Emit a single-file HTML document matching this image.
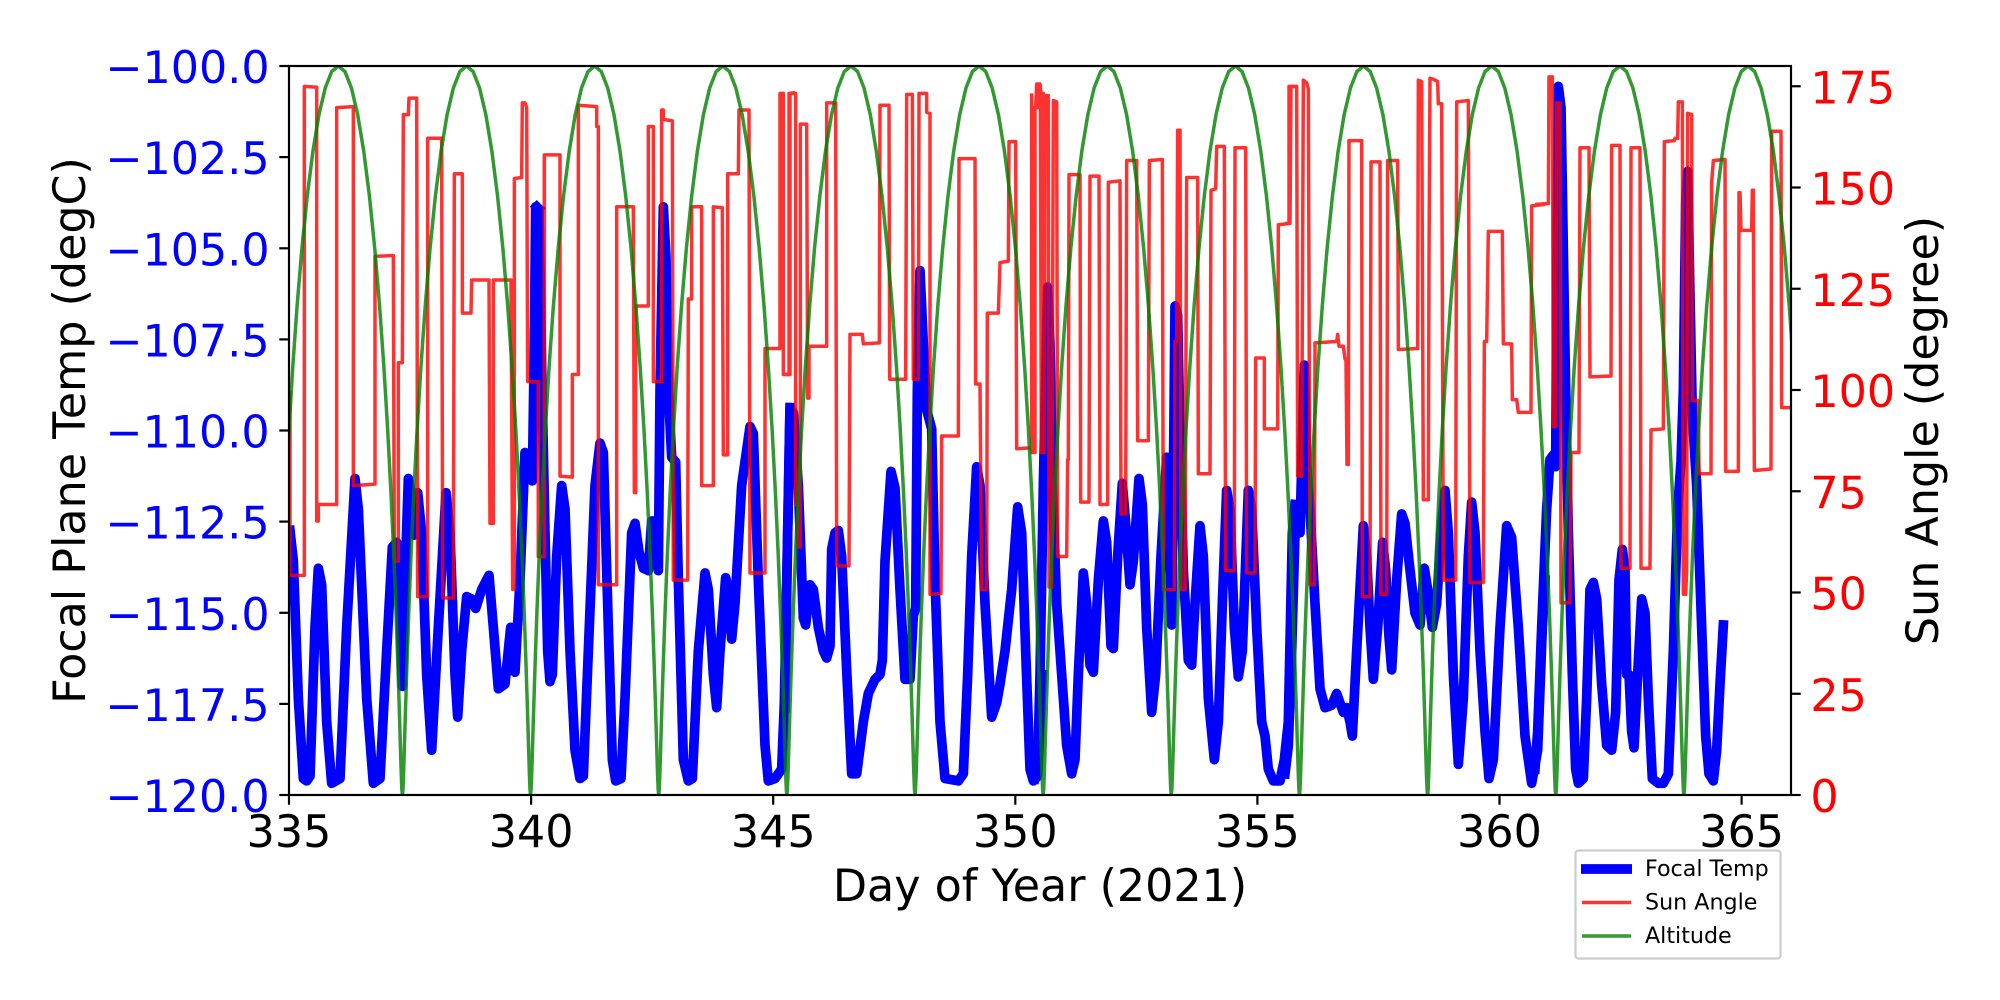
<!DOCTYPE html>
<html><head><meta charset="utf-8"><style>
html,body{margin:0;padding:0;background:#fff;}
svg{display:block;}
text{font-family:"DejaVu Sans","Liberation Sans",sans-serif;}
</style></head><body>
<svg width="2000" height="1000" viewBox="0 0 2000 1000" xmlns="http://www.w3.org/2000/svg">
<rect width="2000" height="1000" fill="#fff"/>
<defs>
<clipPath id="c"><rect x="289" y="66" width="1502" height="729"/></clipPath>
<path id="arch" d="M0,0 L0.55,-5.5 1.19,-22 2.01,-48.8 3.09,-85.3 4.52,-130.2 6.34,-182.3 8.62,-239.8 11.39,-301.2 14.68,-364.5 18.5,-427.8 22.84,-489.2 27.68,-546.8 32.97,-598.8 38.65,-643.7 44.68,-680.2 50.98,-707 57.44,-723.5 64.08,-729 70.71,-723.5 77.17,-707 83.47,-680.2 89.5,-643.7 95.18,-598.8 100.47,-546.8 105.31,-489.2 109.65,-427.8 113.47,-364.5 116.76,-301.2 119.53,-239.8 121.81,-182.3 123.63,-130.2 125.06,-85.3 126.14,-48.8 126.96,-22 127.6,-5.5 128.15,0"/>
</defs>

<g clip-path="url(#c)">
<!-- Blue focal temp -->
<g fill="none" stroke="#0000ff" stroke-width="9.7" stroke-linejoin="round" stroke-linecap="square">
<polyline vector-effect="non-scaling-stroke" transform="translate(285,60.33) scale(0.33333,0.4725)" points="15,995 25,1060 40,1350 55,1520 65,1525 75,1515 90,1200 100,1075 110,1110 125,1400 140,1530 165,1520 185,1200 210,885 220,950 245,1350 265,1530 285,1520 305,1250 322,1030 335,1020 342,1080 352,1325 360,1100 370,885 380,920 387,1005 398,915 410,1000 425,1300 440,1460 460,1200 483,915 495,1000 510,1300 518,1390 530,1250 545,1135 560,1140 572,1160 590,1120 612,1090 625,1200 640,1330 660,1320 677,1200 690,1295 705,1100 720,830 735,840 742,890 748,600 752,310 762,315"/>
<polyline vector-effect="non-scaling-stroke" transform="translate(535,60.33) scale(0.33333,0.4725)" points="5,310 12,315 20,650 30,1000 38,1250 45,1315 52,1300 65,1050 80,900 90,950 105,1250 120,1460 135,1520 145,1515 160,1250 180,900 195,810 205,830 220,1200 232,1480 242,1525 258,1520 270,1350 290,1000 300,980 312,1040 325,1075 340,1080 350,975 360,975 370,1080 375,700 385,310 393,420 400,700 410,840 422,850 430,1100 445,1480 460,1525 472,1520 490,1250 510,1085 520,1120 535,1300 545,1370 555,1250 572,1095 580,1120 590,1225 600,1150 620,900 645,775 655,790 670,1100 690,1450 700,1525 720,1520 740,1500 748,1360 758,1000 765,735"/>
<polyline vector-effect="non-scaling-stroke" transform="translate(785,60.33) scale(0.33333,0.4725)" points="0,1370 8,1000 15,735 25,745 40,900 55,1180 62,1195 75,1110 85,1120 100,1200 115,1250 125,1265 135,1240 140,1035 150,1000 160,995 170,1050 185,1290 200,1510 215,1510 235,1400 250,1340 270,1310 285,1300 292,1270 300,1060 318,870 330,905 345,1120 360,1310 375,1310 385,1175 392,1160 397,700 405,445 415,600 425,740 440,780 450,1100 465,1400 480,1520 520,1525 535,1510 548,1300 560,1050 575,860 585,900 600,1150 620,1390 635,1360 645,1320 660,1250 680,1120 698,945 710,1000 722,1250 735,1500 745,1525 758,1515 772,1300"/>
<polyline vector-effect="non-scaling-stroke" transform="translate(1035,60.33) scale(0.33333,0.4725)" points="0,1520 8,1500 15,1300 25,900 38,480 45,600 52,900 65,1150 80,1300 95,1450 110,1510 120,1480 130,1300 145,1085 155,1150 165,1280 175,1295 190,1100 205,975 215,1020 228,1240 235,1245 248,1050 262,895 272,980 285,1110 295,1060 312,885 322,940 335,1200 350,1380 362,1300 378,1050 395,840 402,1000 410,1195 415,900 420,520 428,540 435,800 445,1080 460,1270 470,1280 480,1150 495,985 505,1050 520,1350 538,1480 550,1400 562,1150 575,910 585,950 598,1200 610,1305 622,1250 640,910 650,950 665,1200 680,1400 690,1430 700,1500 715,1525 735,1525 748,1480 760,1400 772,1000 780,940"/>
<polyline vector-effect="non-scaling-stroke" transform="translate(1285,60.33) scale(0.33333,0.4725)" points="0,1510 10,1450 20,1250 30,1000 38,960 45,1000 52,800 58,645 65,850 75,950 90,1150 105,1330 120,1370 140,1365 155,1340 165,1360 175,1380 185,1370 195,1400 202,1430 215,1250 235,985 245,1050 255,1200 265,1310 278,1200 293,1020 302,1080 312,1220 320,1290 335,1100 350,960 360,980 372,1060 390,1170 405,1195 418,1075 428,1120 442,1200 455,1150 468,1000 480,910 490,1000 505,1300 520,1490 535,1350 550,1050 560,935 570,1000 585,1250 600,1420 612,1520 625,1480 645,1200 665,985 680,1010 700,1200 720,1430 740,1530 758,1460 772,1200 780,1100"/>
<polyline vector-effect="non-scaling-stroke" transform="translate(1535,60.33) scale(0.33333,0.4725)" points="0,1500 8,1420 20,1200 35,950 45,845 55,835 62,860 66,400 70,55 78,100 85,400 92,700 100,1000 112,1300 122,1500 130,1530 145,1520 155,1350 165,1120 175,1105 185,1140 200,1320 215,1450 230,1460 242,1380 252,1100 262,1035 270,1080 275,1300 282,1300 290,1420 297,1455 308,1300 320,1140 330,1170 340,1350 352,1520 370,1530 385,1530 400,1510 415,1250 428,950 438,850 445,700 452,300 458,235 465,500 472,750 485,900 500,1200 512,1430 522,1510 535,1525 545,1460 555,1320 565,1195"/>
</g>

<!-- Red sun angle -->
<g fill="none" stroke="#ff0000" stroke-width="3.5" stroke-linejoin="round" opacity="0.8">
<polyline vector-effect="non-scaling-stroke" transform="translate(285,60.33) scale(0.33333,0.4725)" points="15,700 15,1090 58,1090 58,55 95,57 95,975 100,975 100,940 155,940 155,100 205,98 205,900 270,897 270,415 325,413 328,1060 340,1060 340,640 352,640 355,115 370,115 372,80 395,80 398,1135 428,1135 428,165 470,165 473,1138 505,1138 508,240 532,240 532,535 558,535 560,465 612,465 615,980 625,980 625,465 678,465 683,1120 688,1120 688,250 710,248 712,90 720,90 725,100 728,680 760,680 760,1050 778,1050 778,205"/>
<polyline vector-effect="non-scaling-stroke" transform="translate(535,60.33) scale(0.33333,0.4725)" points="0,680 10,680 10,1050 28,1050 28,200 75,200 75,880 112,882 112,665 130,665 130,95 185,98 185,140 190,140 190,1110 245,1110 245,310 295,310 298,915 302,915 302,520 340,520 340,140 355,140 355,680 380,680 380,105 385,105 385,125 412,128 415,1100 458,1100 460,505 470,505 470,310 500,310 500,900 535,900 535,310 562,312 565,835 578,835 578,240 610,240 612,105 642,105 645,1085 690,1085 690,610 735,610 735,70 745,70 745,665 765,665 765,70 780,68"/>
<polyline vector-effect="non-scaling-stroke" transform="translate(785,60.33) scale(0.33333,0.4725)" points="0,665 12,665 12,70 32,70 32,940 40,940 40,1030 46,1030 46,135 65,135 68,715 72,715 72,605 125,605 125,90 152,90 155,1070 192,1070 195,580 232,580 235,600 283,598 285,95 312,95 314,675 362,675 365,72 382,72 385,675 400,675 402,70 425,70 425,110 435,112 435,1130 468,1128 470,795 520,795 522,208 570,208 572,685 585,685 590,1120 605,1120 607,535 640,535 645,428 670,425 672,172 692,172 695,822 740,820 742,100 752,100 755,50 765,50 768,70 775,70 775,830"/>
<polyline vector-effect="non-scaling-stroke" transform="translate(1035,60.33) scale(0.33333,0.4725)" points="-10,70 -10,830 0,830 0,100 8,100 10,55 16,55 19,830 28,830 30,75 40,75 42,1115 50,1115 55,85 65,88 68,1050 95,1050 98,845 100,845 102,242 135,242 137,935 162,935 165,245 192,245 195,940 218,940 220,258 255,255 258,960 272,960 275,212 305,212 308,805 340,805 343,212 382,210 385,1120 418,1120 420,595 425,595 428,148 435,148 438,1120 450,1120 455,248 488,248 490,875 525,875 528,275 542,272 545,182 568,182 572,1080 598,1080 600,185 632,185 635,1085 660,1085 662,630 688,630 688,780 728,780 730,348 765,345 768,55 780,55"/>
<polyline vector-effect="non-scaling-stroke" transform="translate(1285,60.33) scale(0.33333,0.4725)" points="0,345 12,345 12,55 35,55 38,880 50,880 55,42 65,48 70,60 75,1110 88,1110 90,598 155,595 158,580 162,605 175,605 180,632 183,632 186,855 190,855 192,170 230,170 232,1135 255,1135 258,215 285,215 288,1130 305,1130 308,212 338,212 340,612 398,610 400,42 410,45 415,930 430,930 432,425 435,38 445,40 458,45 460,92 470,92 475,1100 512,1100 515,88 550,85 555,1105 595,1105 598,595 605,595 610,362 652,362 655,600 680,600 682,718 695,718 700,745 738,745 740,308 780,305"/>
<polyline vector-effect="non-scaling-stroke" transform="translate(1535,60.33) scale(0.33333,0.4725)" points="0,305 40,303 42,35 52,35 55,775 62,775 65,90 75,90 78,1148 105,1148 108,830 132,830 135,185 162,185 165,670 228,668 230,180 255,180 258,1075 285,1075 288,185 315,185 318,1075 345,1075 348,782 385,780 388,172 418,170 420,165 428,165 430,88 442,88 445,1130 452,1130 455,1080 458,112 470,115 472,720 490,720 492,875 528,875 530,258 535,212 570,210 572,870 610,870 612,280 615,280 618,360 650,360 652,275 655,275 658,868 708,865 710,150 738,150 740,735 770,735"/>
</g>

<!-- Green altitude -->
<g fill="none" stroke="#008000" stroke-width="3.5" stroke-linejoin="round" opacity="0.8">
<g transform="translate(0,795)">
<use href="#arch" x="274.25"/>
<use href="#arch" x="402.4"/>
<use href="#arch" x="530.55"/>
<use href="#arch" x="658.7"/>
<use href="#arch" x="786.85"/>
<use href="#arch" x="915"/>
<use href="#arch" x="1043.15"/>
<use href="#arch" x="1171.3"/>
<use href="#arch" x="1299.45"/>
<use href="#arch" x="1427.6"/>
<use href="#arch" x="1555.75"/>
<use href="#arch" x="1683.9"/>
</g>
</g>
</g>

<!-- Axes frame -->
<rect x="289" y="66" width="1502" height="729" fill="none" stroke="#000" stroke-width="2.2"/>

<!-- Ticks -->
<g stroke="#000" stroke-width="2.2">
<line x1="279.3" y1="66" x2="289" y2="66"/>
<line x1="279.3" y1="157.1" x2="289" y2="157.1"/>
<line x1="279.3" y1="248.3" x2="289" y2="248.3"/>
<line x1="279.3" y1="339.4" x2="289" y2="339.4"/>
<line x1="279.3" y1="430.5" x2="289" y2="430.5"/>
<line x1="279.3" y1="521.6" x2="289" y2="521.6"/>
<line x1="279.3" y1="612.8" x2="289" y2="612.8"/>
<line x1="279.3" y1="703.9" x2="289" y2="703.9"/>
<line x1="279.3" y1="795" x2="289" y2="795"/>

<line x1="1791" y1="795" x2="1800.7" y2="795"/>
<line x1="1791" y1="693.75" x2="1800.7" y2="693.75"/>
<line x1="1791" y1="592.5" x2="1800.7" y2="592.5"/>
<line x1="1791" y1="491.25" x2="1800.7" y2="491.25"/>
<line x1="1791" y1="390" x2="1800.7" y2="390"/>
<line x1="1791" y1="288.75" x2="1800.7" y2="288.75"/>
<line x1="1791" y1="187.5" x2="1800.7" y2="187.5"/>
<line x1="1791" y1="86.25" x2="1800.7" y2="86.25"/>

<line x1="289" y1="795" x2="289" y2="804.7"/>
<line x1="531.1" y1="795" x2="531.1" y2="804.7"/>
<line x1="773.2" y1="795" x2="773.2" y2="804.7"/>
<line x1="1015.3" y1="795" x2="1015.3" y2="804.7"/>
<line x1="1257.4" y1="795" x2="1257.4" y2="804.7"/>
<line x1="1499.5" y1="795" x2="1499.5" y2="804.7"/>
<line x1="1741.6" y1="795" x2="1741.6" y2="804.7"/>
</g>

<!-- Left tick labels -->
<g fill="#0000ff" font-size="44.4" text-anchor="end">
<text x="269.6" y="83">−100.0</text>
<text x="269.6" y="174.1">−102.5</text>
<text x="269.6" y="265.3">−105.0</text>
<text x="269.6" y="356.4">−107.5</text>
<text x="269.6" y="447.5">−110.0</text>
<text x="269.6" y="538.6">−112.5</text>
<text x="269.6" y="629.8">−115.0</text>
<text x="269.6" y="720.9">−117.5</text>
<text x="269.6" y="812">−120.0</text>
</g>

<!-- Right tick labels -->
<g fill="#ff0000" font-size="44.4" text-anchor="start">
<text x="1810.4" y="812">0</text>
<text x="1810.4" y="710.75">25</text>
<text x="1810.4" y="609.5">50</text>
<text x="1810.4" y="508.25">75</text>
<text x="1810.4" y="407">100</text>
<text x="1810.4" y="305.75">125</text>
<text x="1810.4" y="204.5">150</text>
<text x="1810.4" y="103.25">175</text>
</g>

<!-- Bottom tick labels -->
<g fill="#000" font-size="44.4" text-anchor="middle">
<text x="289" y="847">335</text>
<text x="531.1" y="847">340</text>
<text x="773.2" y="847">345</text>
<text x="1015.3" y="847">350</text>
<text x="1257.4" y="847">355</text>
<text x="1499.5" y="847">360</text>
<text x="1741.6" y="847">365</text>
</g>

<!-- Axis labels -->
<text x="1040" y="901" font-size="44.4" text-anchor="middle" fill="#000">Day of Year (2021)</text>
<text transform="translate(85,430.5) rotate(-90)" font-size="44.4" text-anchor="middle" fill="#000">Focal Plane Temp (degC)</text>
<text transform="translate(1938,430.5) rotate(-90)" font-size="44.4" text-anchor="middle" fill="#000">Sun Angle (degree)</text>

<!-- Legend -->
<rect x="1575.5" y="850.5" width="205" height="108" rx="3" fill="#fff" stroke="#cccccc" stroke-width="2.2"/>
<line x1="1581" y1="869" x2="1632" y2="869" stroke="#0000ff" stroke-width="9.7"/>
<line x1="1582" y1="902.5" x2="1631" y2="902.5" stroke="#ff0000" stroke-opacity="0.8" stroke-width="3.5"/>
<line x1="1582" y1="936" x2="1631" y2="936" stroke="#008000" stroke-opacity="0.8" stroke-width="3.5"/>
<g fill="#000" font-size="22.2">
<text x="1645" y="876">Focal Temp</text>
<text x="1645" y="909.5">Sun Angle</text>
<text x="1645" y="943">Altitude</text>
</g>
</svg>
</body></html>
